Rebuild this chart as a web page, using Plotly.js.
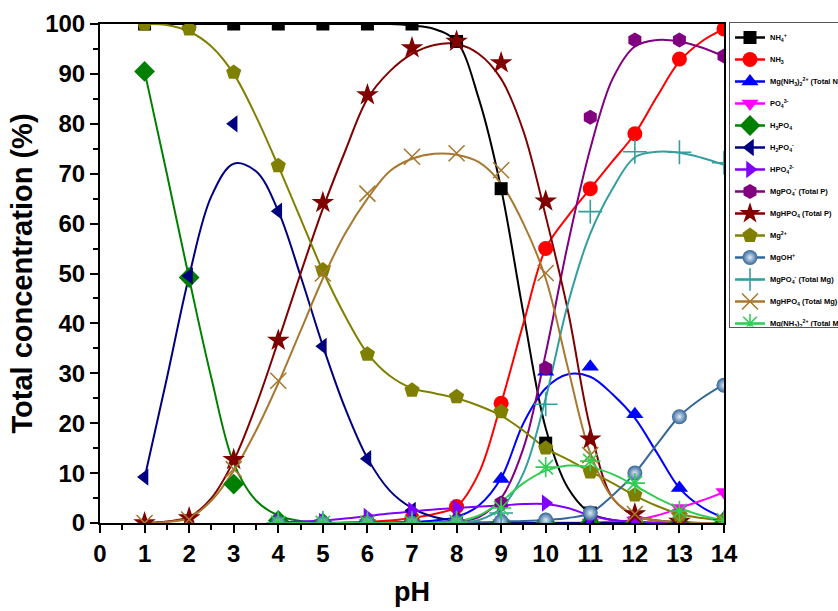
<!DOCTYPE html>
<html>
<head>
<meta charset="utf-8">
<script src="https://cdn.plot.ly/plotly-3.0.1.min.js"></script>
<style>html,body{margin:0;padding:0;background:#fff;}#chart{width:838px;height:611px;}</style>
</head>
<body>
<div id="chart"></div>
<script>
// pH values of the plotted points
const PH = [1,2,3,4,5,6,7,8,9,10,11,12,13,14];
// pH values of the fitted curves
const PH_FIT = [1,1.5,2,2.5,3,3.5,4,4.5,5,5.5,6,6.5,7,7.5,8,8.5,9,9.5,10,10.5,11,11.5,12,12.5,13,13.5,14];

const NAMES = [
  "NH<sub>4</sub><sup>+</sup>",
  "NH<sub>3</sub>",
  "Mg(NH<sub>3</sub>)<sub>2</sub><sup>2+</sup> (Total N)",
  "PO<sub>4</sub><sup>3-</sup>",
  "H<sub>3</sub>PO<sub>4</sub>",
  "H<sub>2</sub>PO<sub>4</sub><sup>-</sup>",
  "HPO<sub>4</sub><sup>2-</sup>",
  "MgPO<sub>4</sub><sup>-</sup> (Total P)",
  "MgHPO<sub>4</sub> (Total P)",
  "Mg<sup>2+</sup>",
  "MgOH<sup>+</sup>",
  "MgPO<sub>4</sub><sup>-</sup> (Total Mg)",
  "MgHPO<sub>4</sub> (Total Mg)",
  "Mg(NH<sub>3</sub>)<sub>2</sub><sup>2+</sup> (Total Mg)"
];

// measured points (%), one value per PH
const NH4_PTS      = [100,100,100,100,100,100,100,96.5,67,16,2,0,0,0];
const NH3_PTS      = [null,null,null,0,0,0.2,1,3.3,24,55,67,78,93,99];
const MGNH3N_PTS   = [null,null,null,0,0,0,0.2,1,8.8,30.3,31.3,21.8,7,1];
const PO4_PTS      = [null,null,null,0,0,0,0,0,0,0,0.1,0.5,3,6.2];
const H3PO4_PTS    = [90.5,49.2,7.8,0.5,0,0,0,0,0,0,0,0,0,0];
const H2PO4_PTS    = [9.2,49.5,80,62.5,35.4,12.9,2.5,0.3,0,0,0,0,0,0];
const HPO4_PTS     = [null,null,null,0.3,0.3,1.3,2.5,3,3.3,4,1.2,0.3,0,0];
const MGPO4P_PTS   = [null,null,null,0,0,0,0,0.5,4,31,81.3,96.8,96.8,93.6];
const MGHPO4P_PTS  = [0,1,12.7,36.6,64.2,85.8,95.2,96.5,92.2,64.5,16.8,1.8,0.3,0];
const MG_PTS       = [100,99,90.3,71.6,50.7,33.8,26.6,25.3,22.3,15,10.2,5.6,1.6,0.5];
const MGOH_PTS     = [null,null,null,0,0,0,0,0.1,0.3,0.6,2,10,21.3,27.6];
const MGPO4MG_PTS  = [null,null,null,0,0,0,0,0.1,2,23.8,62.4,74.4,74.3,72.2];
const MGHPO4MG_PTS = [0,0.7,10.8,28.5,50,66,73.4,74.1,70.7,50.1,13.6,1.8,0.4,0];
const MGNH3MG_PTS  = [null,null,null,0,0,0,0,0.2,3,11.2,12.4,8,2.4,0.5];

// fitted curves (%), one value per PH_FIT
const NH4_FIT      = [100,100,100,100,100,100,100,100,100,100,100,100,99.7,99,96.5,85,67,42,19,7,2,0.6,0.2,0,0,0,0];
const NH3_FIT      = [null,null,null,null,null,null,0,0,0,0.1,0.2,0.5,1,1.8,3.3,10,24,40,55,61.5,67,72.5,78,85.5,92.5,96.5,99];
const MGNH3N_FIT   = [null,null,null,null,null,null,0,0,0,0,0,0.1,0.2,0.5,1.2,3.5,9,20,27,29.8,29.3,25.8,21,14,7,3.2,1];
const PO4_FIT      = [null,null,null,null,null,null,0,0,0,0,0,0,0,0,0,0,0,0,0,0.05,0.1,0.3,0.6,1.5,3,4.5,6.2];
const H3PO4_FIT    = [90.5,70,49,29,12,4.5,1.5,0.4,0.1,0,0,0,0,0,0,0,0,0,0,0,0,0,0,0,0,0,0];
const H2PO4_FIT    = [9,29,49.5,65.5,72,70.5,62.5,49.5,35.5,23,13,6.5,3,1.2,0.4,0.1,0,0,0,0,0,0,0,0,0,0,0];
const HPO4_FIT     = [null,null,null,null,null,null,0.2,0.3,0.5,0.9,1.4,1.9,2.3,2.7,3,3.3,3.5,3.8,3.8,3,1.5,0.6,0.2,0.1,0,0,0];
const MGPO4P_FIT   = [null,null,null,null,null,null,0,0,0,0,0,0,0,0.1,0.3,1.2,5,15,34,56,75,89,95.5,96.8,96.5,95.3,93.5];
const MGHPO4P_FIT  = [0,0.3,1.2,5,12.5,23.5,36.5,50,63,74.5,85,90.5,94,95.8,96,94,89,78.5,61.5,42.5,19,5,1.5,0.5,0.2,0,0];
const MG_FIT       = [100,99.8,98.5,95.5,90,81.5,71.5,61,50.5,41.5,34,29.5,27,26,25,23.5,21.5,18.5,15,12.7,10.3,8,5.5,3.4,1.8,1,0.5];
const MGOH_FIT     = [null,null,null,null,null,null,0,0,0,0,0,0,0,0,0.05,0.1,0.3,0.4,0.6,1,2,5.5,10,15.8,21.4,25,27.8];
const MGPO4MG_FIT  = [null,null,null,null,null,null,0,0,0,0,0,0,0,0,0.1,0.6,3,10,25,44,58,67,73.3,74.4,74.2,73.2,71.8];
const MGHPO4MG_FIT = [0,0.2,1,4.5,10.5,18.5,28,38.5,49,58,65,70.5,73,74,73.8,72.3,68,60,49,31,14,5,1.5,0.5,0.2,0,0];
const MGNH3MG_FIT  = [null,null,null,null,null,null,0,0,0,0,0,0,0,0,0.3,1.5,4.3,8,10.5,11.5,11.2,9.8,7.5,5,3,1.5,0.5];

const PTS = [NH4_PTS,NH3_PTS,MGNH3N_PTS,PO4_PTS,H3PO4_PTS,H2PO4_PTS,HPO4_PTS,MGPO4P_PTS,MGHPO4P_PTS,MG_PTS,MGOH_PTS,MGPO4MG_PTS,MGHPO4MG_PTS,MGNH3MG_PTS];
const FITS = [NH4_FIT,NH3_FIT,MGNH3N_FIT,PO4_FIT,H3PO4_FIT,H2PO4_FIT,HPO4_FIT,MGPO4P_FIT,MGHPO4P_FIT,MG_FIT,MGOH_FIT,MGPO4MG_FIT,MGHPO4MG_FIT,MGNH3MG_FIT];

const STYLE = [
  {c:'#000000', s:'square', z:13},
  {c:'#ff0000', s:'circle', z:15},
  {c:'#0000ff', s:'triangle-up', z:15},
  {c:'#ff00ff', s:'triangle-down', z:15},
  {c:'#008000', s:'diamond', z:16},
  {c:'#000080', s:'triangle-left', z:15},
  {c:'#8000ff', s:'triangle-right', z:15},
  {c:'#800080', s:'hexagon', z:15},
  {c:'#800000', s:'star', z:17},
  {c:'#808000', s:'pentagon', z:16},
  {c:'#336699', s:'circle', z:15, g:'#dfeaf6'},
  {c:'#339e9e', s:'cross-thin-open', z:17, open:true},
  {c:'#a87830', s:'x-thin-open', z:16, open:true},
  {c:'#33cc55', s:'asterisk-open', z:17, open:true}
];

const FONT = 'Arial, "Liberation Sans", sans-serif';
const traces = [];
// fitted curves
FITS.forEach((f, i) => {
  traces.push({x: PH_FIT, y: f, type: 'scatter', mode: 'lines', showlegend: false, hoverinfo: 'skip',
    line: {color: STYLE[i].c, width: 2, shape: 'spline', smoothing: 1}});
});
// data points
function markerOf(st) {
  const m = {symbol: st.s, size: st.z, color: st.c, line: {width: 0}};
  if (st.open) m.line = {width: 1.6, color: st.c};
  if (st.g) m.gradient = {type: 'radial', color: st.g};
  return m;
}
PTS.forEach((p, i) => {
  traces.push({x: PH, y: p, type: 'scatter', mode: 'markers', showlegend: false,
    marker: markerOf(STYLE[i])});
});
// legend entries (line + symbol)
NAMES.forEach((n, i) => {
  traces.push({x: [null], y: [null], type: 'scatter', mode: 'lines+markers', name: n,
    legendgroup: 'g' + i, line: {color: STYLE[i].c, width: 2.5}, marker: markerOf(STYLE[i])});
});

const axisCommon = {
  showline: true, linewidth: 2, linecolor: '#000', mirror: true,
  ticks: 'outside', ticklen: 8, tickwidth: 2, tickcolor: '#000',
  showgrid: false, zeroline: false,
  tickfont: {family: FONT, size: 24, color: '#000', weight: 'bold'}
};

const layout = {
  width: 838, height: 611,
  paper_bgcolor: '#fff', plot_bgcolor: '#fff',
  margin: {l: 100, r: 114, t: 24, b: 88, autoexpand: false},
  xaxis: Object.assign({}, axisCommon, {
    range: [0, 14], tick0: 0, dtick: 1,
    minor: {dtick: 0.5, ticks: 'outside', ticklen: 5, tickwidth: 2, tickcolor: '#000', showgrid: false},
    title: {text: 'pH', standoff: 16, font: {family: FONT, size: 27, color: '#000', weight: 'bold'}}
  }),
  yaxis: Object.assign({}, axisCommon, {
    range: [0, 100], tick0: 0, dtick: 10,
    minor: {dtick: 5, ticks: 'outside', ticklen: 5, tickwidth: 2, tickcolor: '#000', showgrid: false},
    title: {text: 'Total concentration (%)', standoff: 4, font: {family: FONT, size: 29, color: '#000', weight: 'bold'}}
  }),
  legend: {
    x: 1.008, y: 1.004, xanchor: 'left', yanchor: 'top',
    bgcolor: '#fff', bordercolor: '#555', borderwidth: 1,
    font: {family: FONT, size: 7.5, color: '#000', weight: 'bold'},
    itemwidth: 30, tracegroupgap: 3, traceorder: 'grouped'
  },
  showlegend: true
};

Plotly.newPlot('chart', traces, layout, {staticPlot: true, displayModeBar: false});
</script>
</body>
</html>
